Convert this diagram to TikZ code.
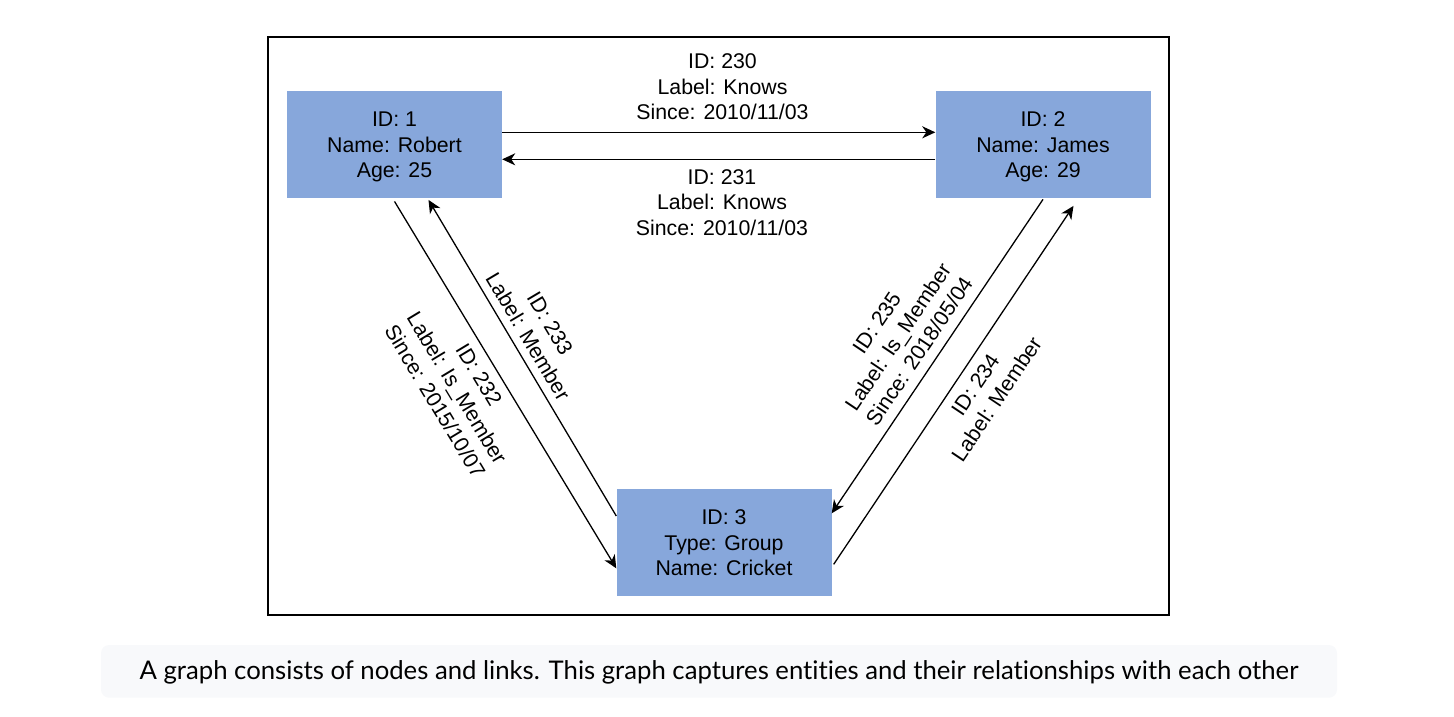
\documentclass[tikz,border=0pt]{standalone}
\usepackage{fontspec}
\setmainfont{Liberation Sans}
\newfontfamily\captionfont{Lato}[Ligatures=NoCommon]
\usetikzlibrary{arrows.meta}
\usetikzlibrary{positioning}
\definecolor{entityblue}{RGB}{135,167,219}
\definecolor{captionbg}{RGB}{248,249,251}
\tikzset{>={Stealth[length=13pt,width=12pt,inset=4pt]}, font=\fontsize{21.3}{25.6}\selectfont}
\tikzstyle{entity} = [fill=entityblue, rectangle, minimum height=107pt, minimum width=215pt, inner sep=0pt, text depth=0pt, text centered, align=center]
\tikzstyle{link} = [->, line width=1.3pt]
\tikzstyle{linklabel} = [align=center, inner sep=0pt]

\begin{document}
\begin{tikzpicture}[x=1pt, y=-1pt]
		\useasboundingbox (0,0) rectangle (1454,716);
		\draw [line width=2pt] (268,37) rectangle (1169,615);

		\node [entity] (robert) at (394.5,144.7) {ID: 1\\Name: Robert\\Age: 25};
		\node [entity] (james) at (1043,144.7) {ID: 2\\Name: James\\Age: 29};
		\node [entity] (cricket) at (724,542.8) {ID: 3\\Type: Group\\Name: Cricket};

		\draw [link] ([yshift=12.4pt]robert.east) -- ([yshift=12.4pt]james.west);
		\draw [link] ([yshift=-14.6pt]james.west) -- ([yshift=-14.6pt]robert.east);
		\draw [link] ([yshift=-3pt]robert.south) -- ([yshift=-25.5pt]cricket.west);
		\draw [link] ([yshift=26.8pt]cricket.west) -- ([xshift=34pt,yshift=-1.5pt]robert.south);
		\draw [link] ([yshift=-1pt]james.south) -- ([yshift=29.5pt]cricket.east);
		\draw [link] ([xshift=2pt,yshift=-21.5pt]cricket.east) -- ([xshift=30.5pt,yshift=-7.5pt]james.south);

		\node [linklabel] (knows230) at (722.5,86.7) {ID: 230\\Label: Knows\\Since: 2010/11/03};
		\node [linklabel] (knows231) at (722,202.5) {ID: 231\\Label: Knows\\Since: 2010/11/03};
		\node [linklabel, rotate=-58.9] (member232) at (457,388) {ID: 232\\Label: Is\_Member\\Since: 2015/10/07};
		\node [linklabel, rotate=-59.3] (member233) at (539,330) {ID: 233\\Label: Member};
		\node [linklabel, rotate=56.2] (member234) at (986,392) {ID: 234\\Label: Member};
		\node [linklabel, rotate=56.1] (member235) at (898,337) {ID: 235\\Label: Is\_Member\\Since: 2018/05/04};

		\fill [captionbg, rounded corners=8pt] (101,645) rectangle (1337,697.7);
		\node [anchor=base, font=\captionfont\fontsize{25.7}{30}\selectfont] (caption) at (719,679.3) {A graph consists of nodes and links. This graph captures entities and their relationships with each other};
	\end{tikzpicture}
\end{document}
